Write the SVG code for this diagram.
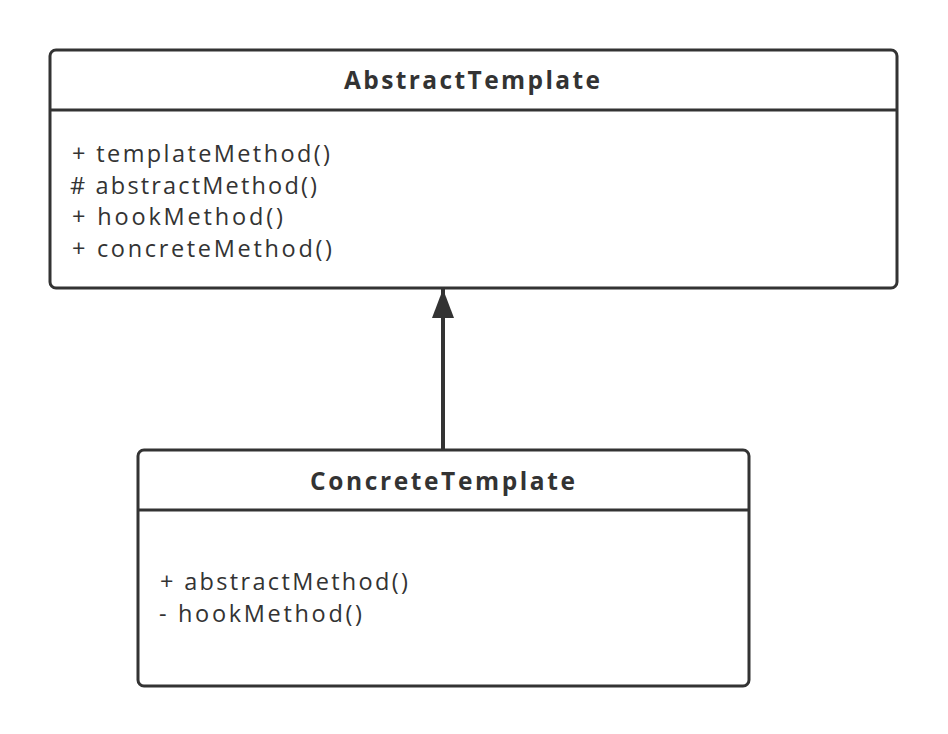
<svg xmlns="http://www.w3.org/2000/svg" width="948" height="734" viewBox="0 0 948 734">
<style>
.box{fill:#fff;stroke:#333;stroke-width:3}
.div{stroke:#333;stroke-width:3}
.t{font-family:"Open Sans","Noto Sans",sans-serif;font-size:23.5px;fill:#333}
.h{font-family:"Open Sans","Noto Sans",sans-serif;font-size:24.5px;font-weight:bold;fill:#333}
.c{stroke:#333;stroke-width:4;fill:none}
</style>
<defs>
<marker id="tri" markerUnits="userSpaceOnUse" markerWidth="30" markerHeight="22" refX="29" refY="11" orient="auto" viewBox="0 0 30 22">
<path d="M0,0 L29,11 L0,22 Z" fill="#333"/>
</marker>
</defs>
<rect width="948" height="734" fill="#fff"/>
<g id="connectors">
<line class="c" x1="443" y1="450" x2="443" y2="289" marker-end="url(#tri)"/>
</g>
<g id="AbstractTemplate">
<rect class="box" x="50" y="50" width="847" height="238" rx="6"/>
<line class="div" x1="50" y1="110" x2="897" y2="110"/>
<text class="h" x="344" y="89" textLength="256" lengthAdjust="spacing">AbstractTemplate</text>
<text class="t" x="72" y="162" textLength="258" lengthAdjust="spacing">+ templateMethod()</text>
<text class="t" x="70" y="193.5" textLength="247" lengthAdjust="spacing"># abstractMethod()</text>
<text class="t" x="72" y="225" textLength="211" lengthAdjust="spacing">+ hookMethod()</text>
<text class="t" x="72" y="256.5" textLength="260" lengthAdjust="spacing">+ concreteMethod()</text>
</g>
<g id="ConcreteTemplate">
<rect class="box" x="138" y="450" width="611" height="236" rx="6"/>
<line class="div" x1="138" y1="510" x2="749" y2="510"/>
<text class="h" x="310" y="490" textLength="265" lengthAdjust="spacing">ConcreteTemplate</text>
<text class="t" x="160" y="590" textLength="248" lengthAdjust="spacing">+ abstractMethod()</text>
<text class="t" x="159" y="622" textLength="203" lengthAdjust="spacing">- hookMethod()</text>
</g>
</svg>
